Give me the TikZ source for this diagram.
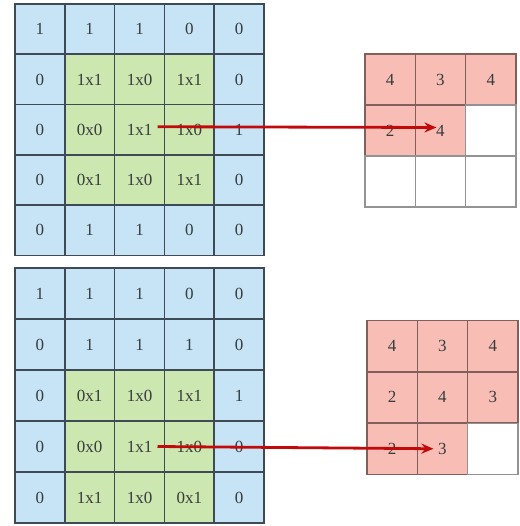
\documentclass[tikz,border=0pt]{standalone}
\usepackage{fontspec}
\setmainfont{Liberation Serif}
\usetikzlibrary{arrows.meta}
\definecolor{cblue}{RGB}{198,228,246}
\definecolor{cgreen}{RGB}{205,231,176}
\definecolor{cpink}{RGB}{248,190,182}
\definecolor{cline}{RGB}{62,74,86}
\definecolor{pline}{RGB}{130,95,90}
\definecolor{ctext}{RGB}{55,60,60}
\definecolor{carrow}{RGB}{195,10,10}
\tikzset{
  cellbase/.style={draw, line width=1.5pt, minimum width=49.8pt, minimum height=50.5pt, inner sep=0pt, outer sep=0pt, anchor=center, font=\fontsize{17}{17}\selectfont, text=ctext},
  bcell/.style={cellbase, fill=cblue, draw=cline},
  gcell/.style={cellbase, fill=cgreen, draw=cline},
  pcell/.style={cellbase, fill=cpink, draw=pline, minimum width=50.3pt, minimum height=51pt},
  wcell/.style={cellbase, fill=white, draw=gray!85, minimum width=50.3pt, minimum height=51pt},
  redarrow/.style={draw=carrow, line width=2.8pt, -{Stealth[length=12pt,width=10pt]}}
}
\begin{document}
\begin{tikzpicture}[x=1pt,y=1pt]
\useasboundingbox (0,0) rectangle (519,-526);
% top-left grid
\foreach \r/\c/\t/\s in {
 1/1/1/bcell,1/2/1/bcell,1/3/1/bcell,1/4/0/bcell,1/5/0/bcell,
 2/1/0/bcell,2/2/1x1/gcell,2/3/1x0/gcell,2/4/1x1/gcell,2/5/0/bcell,
 3/1/0/bcell,3/2/0x0/gcell,3/3/1x1/gcell,3/4/1x0/gcell,3/5/1/bcell,
 4/1/0/bcell,4/2/0x1/gcell,4/3/1x0/gcell,4/4/1x1/gcell,4/5/0/bcell,
 5/1/0/bcell,5/2/1/bcell,5/3/1/bcell,5/4/0/bcell,5/5/0/bcell}
 \node[\s] (A-\r-\c) at ({15+(\c-0.5)*49.8}, {-4-(\r-0.5)*50.3}) {\t};
% bottom-left grid
\foreach \r/\c/\t/\s in {
 1/1/1/bcell,1/2/1/bcell,1/3/1/bcell,1/4/0/bcell,1/5/0/bcell,
 2/1/0/bcell,2/2/1/bcell,2/3/1/bcell,2/4/1/bcell,2/5/0/bcell,
 3/1/0/bcell,3/2/0x1/gcell,3/3/1x0/gcell,3/4/1x1/gcell,3/5/1/bcell,
 4/1/0/bcell,4/2/0x0/gcell,4/3/1x1/gcell,4/4/1x0/gcell,4/5/0/bcell,
 5/1/0/bcell,5/2/1x1/gcell,5/3/1x0/gcell,5/4/0x1/gcell,5/5/0/bcell}
 \node[\s, minimum height=51pt] (B-\r-\c) at ({15+(\c-0.5)*49.8}, {-268-(\r-0.5)*51}) {\t};
% top-right grid
\foreach \r/\c/\t/\s in {
 1/1/4/pcell,1/2/3/pcell,1/3/4/pcell,
 2/1/2/pcell,2/2/4/pcell,2/3/{}/wcell,
 3/1/{}/wcell,3/2/{}/wcell,3/3/{}/wcell}
 \node[\s] (C-\r-\c) at ({365+(\c-0.5)*50.3}, {-54-(\r-0.5)*51}) {\t};
% bottom-right grid
\foreach \r/\c/\t/\s in {
 1/1/4/pcell,1/2/3/pcell,1/3/4/pcell,
 2/1/2/pcell,2/2/4/pcell,2/3/3/pcell,
 3/1/2/pcell,3/2/3/pcell,3/3/{}/wcell}
 \node[\s] (D-\r-\c) at ({367+(\c-0.5)*50.3}, {-320-(\r-0.5)*51.5}) {\t};
% arrows
\draw[redarrow] ([xshift=18pt,yshift=3pt]A-3-3.center) -- ([xshift=-4pt,yshift=3pt]C-2-2.center);
\draw[redarrow] ([xshift=18pt]B-4-3.center) -- ([xshift=-9pt]D-3-2.center);
\end{tikzpicture}
\end{document}
